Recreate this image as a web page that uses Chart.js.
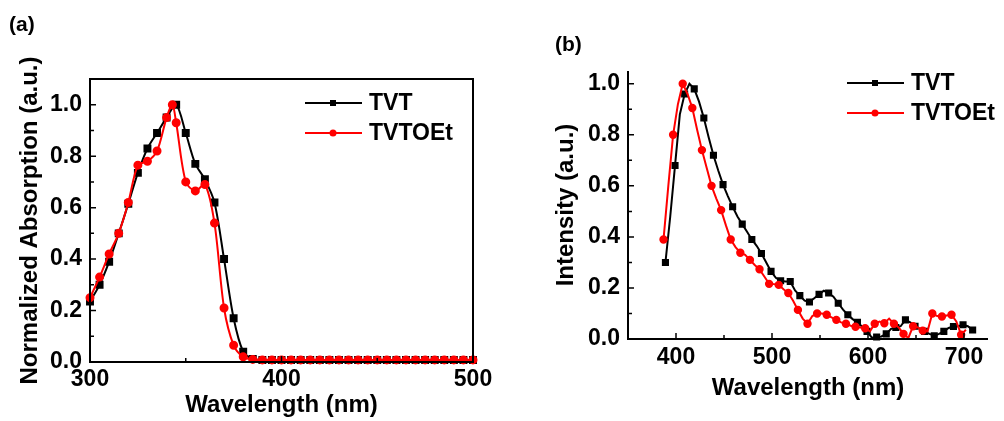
<!DOCTYPE html>
<html>
<head>
<meta charset="utf-8">
<script src="https://cdn.jsdelivr.net/npm/chart.js@4.4.1/dist/chart.umd.min.js"></script>
<style>
body { margin:0; background:#fff; width:1004px; height:421px; overflow:hidden; position:relative; }
#pa { position:absolute; left:0; top:0; }
#pb { position:absolute; left:500px; top:0; }
</style>
</head>
<body>
<canvas id="pa" width="500" height="421"></canvas>
<canvas id="pb" width="504" height="421"></canvas>
<script>
// ---- panel (a): absorption ----
var absTvtX = [300,305,310,315,320,325,330,335,340,345,350,355,360,365,370,375,380,385,390,395,400,405,410,415,420,425,430,435,440,445,450,455,460,465,470,475,480,485,490,495,500];
var absTvtY = [0.235,0.30,0.39,0.50,0.615,0.735,0.83,0.89,0.95,1.0,0.89,0.77,0.71,0.62,0.40,0.17,0.04,0.012,0.008,0.008,0.008,0.008,0.008,0.008,0.008,0.008,0.008,0.008,0.008,0.008,0.008,0.008,0.008,0.008,0.008,0.008,0.008,0.008,0.008,0.008,0.008];
var absOetX = [300,305,310,315,320,325,330,335,340,343,345,350,355,360,365,370,375,380,385,390,395,400,405,410,415,420,425,430,435,440,445,450,455,460,465,470,475,480,485,490,495,500];
var absOetY = [0.25,0.33,0.42,0.50,0.62,0.765,0.78,0.82,0.95,1.0,0.93,0.70,0.665,0.69,0.54,0.21,0.065,0.02,0.01,0.008,0.008,0.008,0.008,0.008,0.008,0.008,0.008,0.008,0.008,0.008,0.008,0.008,0.008,0.008,0.008,0.008,0.008,0.008,0.008,0.008,0.008,0.008];
var absXTicks = [300,400,500];
var absXMinor = [350,450];
var absYTicks = [0,0.2,0.4,0.6,0.8,1.0];
var absYMinor = [0.1,0.3,0.5,0.7,0.9];

// ---- panel (b): emission ----
var plTvtX = [389,394,399,404,409,414,419,424,429,434,439,444,449,454,459,464,469,474,479,484,489,494,499,504,509,514,519,524,529,534,539,544,549,554,559,564,569,574,579,584,589,594,599,604,609,614,619,624,629,634,639,644,649,654,659,664,669,674,679,684,689,694,699,704,709];
var plTvtY = [0.30,0.48,0.68,0.88,0.96,1.0,0.98,0.93,0.866,0.79,0.72,0.66,0.605,0.56,0.518,0.48,0.45,0.42,0.39,0.365,0.335,0.30,0.265,0.24,0.228,0.225,0.225,0.19,0.17,0.15,0.145,0.16,0.175,0.189,0.18,0.166,0.14,0.115,0.095,0.078,0.065,0.048,0.03,0.005,0.008,0.01,0.02,0.04,0.045,0.05,0.075,0.065,0.05,0.04,0.03,0.02,0.013,0.02,0.03,0.043,0.049,0.05,0.056,0.05,0.035];
var plOetX = [387,392,397,402,407,412,417,422,427,432,437,442,447,452,457,462,467,472,477,482,487,492,497,502,507,512,517,522,527,532,537,542,547,552,557,562,567,572,577,582,587,592,597,602,607,612,617,622,627,632,637,642,647,652,657,662,667,672,677,682,687,692,697,702];
var plOetY = [0.39,0.60,0.80,0.92,1.0,0.96,0.905,0.82,0.74,0.67,0.60,0.55,0.505,0.445,0.39,0.36,0.338,0.33,0.31,0.29,0.273,0.245,0.216,0.215,0.212,0.195,0.18,0.15,0.114,0.08,0.06,0.09,0.10,0.10,0.095,0.085,0.075,0.065,0.06,0.052,0.048,0.045,0.042,0.03,0.06,0.068,0.062,0.08,0.06,0.045,0.02,0.004,0.05,0.045,0.033,0.03,0.10,0.09,0.088,0.092,0.095,0.069,0.017,0.036];
var plXTicks = [400,500,600,700];
var plXMinor = [450,550,650];
var plYTicks = [0,0.2,0.4,0.6,0.8,1.0];
var plYMinor = [0.1,0.3,0.5,0.7,0.9];

Chart.defaults.font.family = "'Liberation Sans', Arial, sans-serif";
Chart.defaults.font.weight = 'bold';
Chart.defaults.color = '#000';

function pts(xs, ys) {
    return xs.map(function (x, i) { return { x: x, y: ys[i] }; });
}

// axis frame, inward ticks, legend and panel letter
var framePlugin = {
    id: 'frame',
    afterDraw: function (chart, args, o) {
        var ctx = chart.ctx, a = chart.chartArea;
        var xs = chart.scales.x, ys = chart.scales.y;
        ctx.save();
        ctx.strokeStyle = '#000';
        ctx.lineWidth = 2;
        ctx.beginPath();
        if (o.box) {
            ctx.rect(a.left, a.top, a.right - a.left, a.bottom - a.top);
        } else {
            ctx.moveTo(a.left, a.top);
            ctx.lineTo(a.left, a.bottom);
            ctx.lineTo(a.right, a.bottom);
        }
        ctx.stroke();

        ctx.lineWidth = 1.5;
        ctx.beginPath();
        o.xMajor.forEach(function (v) { var p = xs.getPixelForValue(v); ctx.moveTo(p, a.bottom); ctx.lineTo(p, a.bottom - 6); });
        o.xMinor.forEach(function (v) { var p = xs.getPixelForValue(v); ctx.moveTo(p, a.bottom); ctx.lineTo(p, a.bottom - 4); });
        o.yMajor.forEach(function (v) { var p = ys.getPixelForValue(v); ctx.moveTo(a.left, p); ctx.lineTo(a.left + 6, p); });
        o.yMinor.forEach(function (v) { var p = ys.getPixelForValue(v); ctx.moveTo(a.left, p); ctx.lineTo(a.left + 4, p); });
        ctx.stroke();

        // legend
        ctx.font = 'bold 23px ' + Chart.defaults.font.family;
        ctx.textBaseline = 'middle';
        ctx.textAlign = 'left';
        chart.data.datasets.forEach(function (ds, i) {
            var y = o.legY + i * 30;
            ctx.strokeStyle = ds.borderColor;
            ctx.lineWidth = 2;
            ctx.beginPath();
            ctx.moveTo(o.legX, y);
            ctx.lineTo(o.legX + 57, y);
            ctx.stroke();
            ctx.fillStyle = ds.borderColor;
            ctx.beginPath();
            if (ds.pointStyle === 'rect') {
                ctx.rect(o.legX + 25, y - 3, 6, 6);
            } else {
                ctx.arc(o.legX + 28, y, 3.5, 0, Math.PI * 2);
            }
            ctx.fill();
            ctx.fillStyle = '#000';
            ctx.fillText(ds.label, o.legX + 64, y + 1);
        });

        ctx.font = 'bold 21px ' + Chart.defaults.font.family;
        ctx.fillText(o.tag, o.tagX, o.tagY);
        ctx.restore();
    }
};

function makeChart(id, cfg) {
    return new Chart(document.getElementById(id), {
        type: 'line',
        data: {
            datasets: [{
                label: 'TVT',
                data: pts(cfg.x1, cfg.y1),
                borderColor: '#000000',
                backgroundColor: '#000000',
                borderWidth: 2,
                pointStyle: 'rect',
                pointRadius: cfg.sqR,
                pointHoverRadius: 0,
                tension: cfg.tension,
                clip: false,
                order: 1
            }, {
                label: 'TVTOEt',
                data: pts(cfg.x2, cfg.y2),
                borderColor: '#ff0000',
                backgroundColor: '#ff0000',
                borderWidth: 2,
                pointStyle: 'circle',
                pointRadius: cfg.ciR,
                pointHoverRadius: 0,
                tension: cfg.tension,
                clip: false,
                order: 0
            }]
        },
        options: {
            responsive: false,
            animation: false,
            events: [],
            layout: { padding: cfg.pad },
            plugins: {
                legend: { display: false },
                tooltip: { enabled: false },
                frame: cfg.frame
            },
            scales: {
                x: {
                    type: 'linear',
                    min: cfg.xMin, max: cfg.xMax,
                    afterBuildTicks: function (s) { s.ticks = cfg.xTicks.map(function (v) { return { value: v }; }); },
                    afterFit: function (s) { s.height = cfg.xH; },
                    grid: { display: false, drawTicks: false },
                    border: { display: false },
                    ticks: { padding: cfg.xPad, maxRotation: 0, autoSkip: false, font: { size: 23, weight: 'bold' }, color: '#000',
                             callback: function (v) { return String(v); } },
                    title: { display: true, text: 'Wavelength (nm)', color: '#000', font: { size: 24, weight: 'bold' },
                             padding: { top: 0, bottom: cfg.xTitlePad } }
                },
                y: {
                    type: 'linear',
                    min: 0, max: cfg.yMax,
                    afterBuildTicks: function (s) { s.ticks = cfg.yTicks.map(function (v) { return { value: v }; }); },
                    afterFit: function (s) { s.width = cfg.yW; },
                    grid: { display: false, drawTicks: false },
                    border: { display: false },
                    ticks: { padding: 8, font: { size: 23, weight: 'bold' }, color: '#000',
                             callback: function (v) { return Number(v).toFixed(1); } },
                    title: { display: true, text: cfg.yTitle, color: '#000', font: { size: 24, weight: 'bold' },
                             padding: { top: cfg.yTitlePad, bottom: 0 } }
                }
            }
        },
        plugins: [framePlugin]
    });
}

makeChart('pa', {
    x1: absTvtX, y1: absTvtY, x2: absOetX, y2: absOetY,
    sqR: 4.2, ciR: 3.5, tension: 0.3,
    pad: { top: 79, right: 27, left: 0, bottom: 0 },
    xMin: 300, xMax: 500, xTicks: absXTicks, xH: 59, xPad: 4, xTitlePad: 1.6,
    yMax: 1.1, yTicks: absYTicks, yW: 90, yTitle: 'Normalized Absorption (a.u.)', yTitlePad: 15.6,
    frame: { box: true, xMajor: absXTicks, xMinor: absXMinor, yMajor: absYTicks, yMinor: absYMinor,
             legX: 305, legY: 103, tag: '(a)', tagX: 9, tagY: 25 }
});

makeChart('pb', {
    x1: plTvtX, y1: plTvtY, x2: plOetX, y2: plOetY,
    sqR: function (c) { return c.dataIndex % 2 === 0 ? 3.6 : 0; },
    ciR: function (c) { return c.dataIndex % 2 === 0 ? 3.2 : 0; },
    tension: 0,
    pad: { top: 71, right: 16, left: 0, bottom: 0 },
    xMin: 350, xMax: 725, xTicks: plXTicks, xH: 82, xPad: 5, xTitlePad: 18.6,
    yMax: 1.05, yTicks: plYTicks, yW: 128, yTitle: 'Intensity (a.u.)', yTitlePad: 51.6,
    frame: { box: false, xMajor: plXTicks, xMinor: plXMinor, yMajor: plYTicks, yMinor: plYMinor,
             legX: 347, legY: 83, tag: '(b)', tagX: 55, tagY: 45 }
});
</script>
</body>
</html>
